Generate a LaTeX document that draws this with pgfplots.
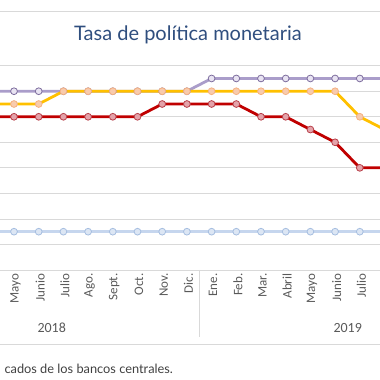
\documentclass[border=0pt]{standalone}
\usepackage{pgfplots}
\pgfplotsset{compat=1.18}
\usepackage{pgfplotstable}
\usepackage{fontspec}
\setmainfont{Lato}
\newfontfamily\lblfont{Carlito}
\definecolor{gridc}{HTML}{D9D9D9}
\definecolor{titlec}{HTML}{2F4E7E}
\definecolor{lblc}{HTML}{595959}
\definecolor{redl}{HTML}{C00000}
\definecolor{redf}{HTML}{E4A3AA}
\definecolor{redd}{HTML}{B8404A}
\definecolor{yell}{HTML}{FFC000}
\definecolor{yelf}{HTML}{F8CBAD}
\definecolor{yeld}{HTML}{F4B183}
\definecolor{purl}{HTML}{AA9DCA}
\definecolor{purf}{HTML}{E8E3F2}
\definecolor{purd}{HTML}{7E6E9E}
\definecolor{blul}{HTML}{C6D6EE}
\definecolor{bluf}{HTML}{DCE6F4}
\definecolor{blud}{HTML}{A6BEE0}

\pgfplotstableread{
x y
-1 6.0
0 6.0
1 6.0
2 6.0
3 6.0
4 6.0
5 6.0
6 6.5
7 6.5
8 6.5
9 6.5
10 6.0
11 6.0
12 5.5
13 5.0
14 4.0
15 4.0
}\redtab
\pgfplotstableread{
x y
-1 6.5
0 6.5
1 6.5
2 7.0
3 7.0
4 7.0
5 7.0
6 7.0
7 7.0
8 7.0
9 7.0
10 7.0
11 7.0
12 7.0
13 7.0
14 6.0
15 5.5
}\yeltab
\pgfplotstableread{
x y
-1 7.0
0 7.0
1 7.0
2 7.0
3 7.0
4 7.0
5 7.0
6 7.0
7 7.0
8 7.5
9 7.5
10 7.5
11 7.5
12 7.5
13 7.5
14 7.5
15 7.5
}\purtab
\pgfplotstableread{
x y
-1 1.5
0 1.5
1 1.5
2 1.5
3 1.5
4 1.5
5 1.5
6 1.5
7 1.5
8 1.5
9 1.5
10 1.5
11 1.5
12 1.5
13 1.5
14 1.5
15 1.5
}\blutab

\begin{document}
\begin{tikzpicture}[x=1bp,y=1bp]
\useasboundingbox (0,0) rectangle (380,380);
\draw[gridc, line width=0.8bp] (0,369) -- (380,369);
\draw[gridc, line width=0.8bp] (0,36) -- (380,36);
\node[anchor=center, text=titlec, font=\fontsize{20bp}{24bp}\selectfont] at (188,345) {Tasa de política monetaria};
\begin{axis}[
  at={(0bp,110bp)}, anchor=south west,
  scale only axis, width=380bp, height=204.3bp,
  xmin=-0.567, xmax=14.818, ymin=0, ymax=8,
  axis line style={draw=none},
  ytick={0,...,8}, yticklabels={},
  ymajorgrids, grid style={gridc, line width=0.8bp},
  xtick={0,...,14},
  xticklabels={Mayo,Junio,Julio,Ago.,Sept.,Oct.,Nov.,Dic.,Ene.,Feb.,Mar.,Abril,Mayo,Junio,Julio},
  xticklabel style={rotate=90, anchor=east, text=lblc, font=\lblfont\fontsize{13bp}{15bp}\selectfont, yshift=-1.5bp},
  major tick length=0pt,
  every axis plot/.append style={line width=2.8bp, mark=*, mark size=3.4bp},
]
\addplot[blul, mark options={fill=bluf, draw=blud, line width=0.8bp}] table[x=x,y=y] {\blutab};
\addplot[purl, mark options={fill=purf, draw=purd, line width=0.8bp}] table[x=x,y=y] {\purtab};
\addplot[yell, mark options={fill=yelf, draw=yeld, line width=0.8bp}] table[x=x,y=y] {\yeltab};
\addplot[redl, mark options={fill=redf, draw=redd, line width=0.8bp}] table[x=x,y=y] {\redtab};
\end{axis}
\draw[gridc, line width=0.8bp] (199,110) -- (199,43);
\node[text=lblc, font=\lblfont\fontsize{14bp}{16bp}\selectfont] at (51.7,52) {2018};
\node[text=lblc, font=\lblfont\fontsize{14bp}{16bp}\selectfont] at (347.7,52) {2019};
\node[anchor=base west, text=black!75, font=\fontsize{12.8bp}{15bp}\selectfont] at (1,7) {cados de los bancos centrales.};
\end{tikzpicture}
\end{document}
